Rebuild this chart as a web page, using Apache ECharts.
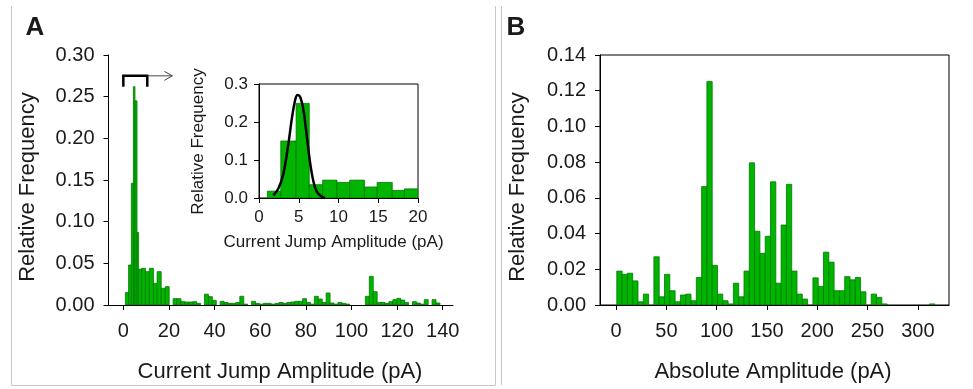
<!DOCTYPE html>
<html><head><meta charset="utf-8">
<script src="https://cdn.jsdelivr.net/npm/echarts@6/dist/echarts.min.js"></script>
<style>html,body{margin:0;padding:0;background:#fff}#c{width:973px;height:389px}</style>
</head><body><div id="c"></div>
<script>
// ---------- Panel A: main histogram ----------
const peakEdgesA = [0.9, 2.3, 3.5, 4.4, 5.1, 6.0, 6.7, 8.0, 9.7, 11.4, 13.2, 14.8, 16.6, 18.4, 20.1];
const peakFreqA  = [0.015, 0.048, 0.146, 0.262, 0.245, 0.087, 0.043, 0.044, 0.040, 0.044, 0.026, 0.040, 0.020, 0.022];
const tailStartA = 20.1, tailWidthA = 1.72;
const tailFreqA = [
  0, 0.0076, 0.0076, 0.004, 0.0036, 0.0036, 0.004, 0.002, 0, 0.013,
  0.010, 0.0055, 0, 0.0044, 0.003, 0.002, 0.002, 0.003, 0.0105, 0.001,
  0, 0.0044, 0.002, 0.001, 0.002, 0.002, 0.001, 0.002, 0.003, 0.002,
  0.003, 0.0036, 0.0044, 0.0044, 0.0076, 0.003, 0.001, 0.0104, 0.0072, 0.003,
  0.0144, 0.0024, 0.001, 0.003, 0.002, 0.001, 0, 0, 0, 0,
  0.0104, 0.0344, 0.016, 0.003, 0.003, 0.002, 0.004, 0.0064, 0.008, 0.006,
  0.003, 0, 0.004, 0.0024, 0.001, 0.0064, 0, 0.0064, 0.0024, 0
];
const ticksAx = [0, 20, 40, 60, 80, 100, 120, 140];
// ---------- Panel A: inset ----------
const insetEdges = [1.05, 2.74, 4.67, 6.32, 8.0, 9.81, 11.41, 13.26, 14.86, 16.76, 18.3, 20.0];
const insetFreq  = [0.018, 0.15, 0.249, 0.035, 0.047, 0.041, 0.047, 0.029, 0.041, 0.020, 0.024];
const fitX = [1.81, 2.44, 3.07, 3.7, 4.13, 4.55, 4.84, 5.18, 5.6, 6.02, 6.44, 6.86, 7.28, 7.9, 8.3];
const fitY = [0.007, 0.025, 0.064, 0.143, 0.209, 0.258, 0.271, 0.266, 0.231, 0.161, 0.091, 0.042, 0.016, 0.003, 0.0];
const insetTicksX = [0, 5, 10, 15, 20];
// ---------- Panel B ----------
const binStartB = 0.7, binWidthB = 5.27;
const freqB = [
  0.019, 0.0172, 0.0178, 0.0135, 0.0018, 0.0061, 0, 0.027, 0.0046, 0.0172,
  0.008, 0.0018, 0.0056, 0.0061, 0.0024, 0.0154, 0.0663, 0.1252, 0.0222, 0.0061,
  0.0024, 0.0006, 0.0122, 0.0046, 0.019, 0.0796, 0.0413, 0.0289, 0.0385, 0.069,
  0.0122, 0.0448, 0.0676, 0.019, 0.0061, 0.0033, 0, 0.0152, 0.0104, 0.0296,
  0.024, 0.008, 0.008, 0.0159, 0.0141, 0.0154, 0.0074, 0, 0.0061, 0.0043,
  0.0006, 0, 0, 0, 0, 0, 0, 0, 0, 0.0006
];
const ticksBx = [0, 50, 100, 150, 200, 250, 300];

// annotation (bracket + arrow) in panel A data coordinates
const bracketX = [0, 10.5], bracketTop = 0.275, bracketFoot = 0.262, arrowEnd = 21.5;

// ---------- build items ----------
const dataA = [];
for (let i = 0; i < peakFreqA.length; i++) dataA.push([peakEdgesA[i], peakEdgesA[i + 1], peakFreqA[i]]);
tailFreqA.forEach((v, k) => dataA.push([tailStartA + k * tailWidthA, tailStartA + (k + 1) * tailWidthA, v]));
const dataInset = insetFreq.map((v, i) => [insetEdges[i], insetEdges[i + 1], v]);
const dataB = freqB.map((v, k) => [binStartB + k * binWidthB, binStartB + (k + 1) * binWidthB, v]);

const FONT = 'Liberation Sans, Arial, Helvetica, sans-serif';
const TXT = '#1a1a1a';
const FILL = '#00b400', EDGE = '#007800';

function histItem(params, api) {
  const v = api.value(2);
  if (!v) return null;
  const p0 = api.coord([api.value(0), v]);
  const p1 = api.coord([api.value(1), 0]);
  return {
    type: 'rect',
    shape: { x: p0[0], y: p0[1], width: p1[0] - p0[0], height: p1[1] - p0[1] },
    style: { fill: FILL, stroke: EDGE, lineWidth: 0.8 }
  };
}

function xAx(gi, min, max, ticks, fs, margin) {
  return {
    gridIndex: gi, type: 'value', min: min, max: max,
    axisLine: { show: true, onZero: false, lineStyle: { color: '#000', width: 1 } },
    axisTick: { show: true, length: 5, customValues: ticks, lineStyle: { color: '#000' } },
    axisLabel: { customValues: ticks, fontSize: fs, margin: margin, color: TXT, fontFamily: FONT },
    splitLine: { show: false }
  };
}
function yAx(gi, max, interval, dec, fs, margin) {
  return {
    gridIndex: gi, type: 'value', min: 0, max: max, interval: interval,
    axisLine: { show: true, onZero: false, lineStyle: { color: '#000', width: 1 } },
    axisTick: { show: true, length: 5, lineStyle: { color: '#000' } },
    axisLabel: { fontSize: fs, margin: margin, color: TXT, fontFamily: FONT,
      formatter: v => v.toFixed(dec) },
    splitLine: { show: false }
  };
}

const chart = echarts.init(document.getElementById('c'), null, { renderer: 'canvas' });
chart.setOption({
  backgroundColor: '#fff',
  animation: false,
  grid: [
    { left: 108.5, top: 55, width: 344.5, height: 250 },
    { left: 600, top: 55, width: 349, height: 250, show: true, borderColor: '#000', borderWidth: 1 },
    { left: 259, top: 84, width: 159, height: 114, show: true, borderColor: '#000', borderWidth: 1, backgroundColor: '#fff' }
  ],
  xAxis: [
    xAx(0, -6.5, 144.5, ticksAx, 20, 16),
    xAx(1, -16, 331, ticksBx, 20, 16),
    xAx(2, 0, 20, insetTicksX, 17, 11)
  ],
  yAxis: [
    yAx(0, 0.30, 0.05, 2, 20, 14),
    yAx(1, 0.14, 0.02, 2, 20, 14),
    yAx(2, 0.3, 0.1, 1, 17, 11)
  ],
  series: [
    { type: 'custom', xAxisIndex: 0, yAxisIndex: 0, renderItem: histItem, data: dataA,
      encode: { x: [0, 1], y: 2 }, clip: true, silent: true },
    { type: 'custom', xAxisIndex: 1, yAxisIndex: 1, renderItem: histItem, data: dataB,
      encode: { x: [0, 1], y: 2 }, clip: true, silent: true },
    { type: 'custom', xAxisIndex: 2, yAxisIndex: 2, renderItem: histItem, data: dataInset,
      encode: { x: [0, 1], y: 2 }, clip: true, silent: true, z: 3 },
    { type: 'line', xAxisIndex: 2, yAxisIndex: 2, data: fitX.map((x, i) => [x, fitY[i]]),
      smooth: 0.35, symbol: 'none', lineStyle: { color: '#000', width: 2.5 }, z: 4, silent: true }
  ]
});

// annotations and titles
const pL = chart.convertToPixel({ gridIndex: 0 }, [bracketX[0], bracketTop]);
const pR = chart.convertToPixel({ gridIndex: 0 }, [bracketX[1], bracketTop]);
const pF = chart.convertToPixel({ gridIndex: 0 }, [bracketX[0], bracketFoot]);
const pE = chart.convertToPixel({ gridIndex: 0 }, [arrowEnd, bracketTop]);
const ty = pL[1], fy = pF[1];

function txt(x, y, s, size, opts) {
  return Object.assign({ type: 'text', x: x, y: y, silent: true,
    style: { text: s, font: (opts && opts.bold ? 'bold ' : '') + size + 'px ' + FONT,
      fill: TXT, align: 'center', verticalAlign: 'middle' } }, opts && opts.extra);
}
function rtxt(x, y, s, size) {
  return { type: 'text', x: x, y: y, rotation: Math.PI / 2, silent: true,
    style: { text: s, font: size + 'px ' + FONT, fill: TXT, align: 'center', verticalAlign: 'middle' } };
}
const gray = { stroke: '#c8c8c8', lineWidth: 1 };
chart.setOption({
  graphic: [
    { type: 'line', shape: { x1: 11.5, y1: 6, x2: 11.5, y2: 385 }, style: gray, silent: true },
    { type: 'line', shape: { x1: 495.5, y1: 6, x2: 495.5, y2: 385 }, style: gray, silent: true },
    { type: 'line', shape: { x1: 501.5, y1: 6, x2: 501.5, y2: 385 }, style: gray, silent: true },
    { type: 'line', shape: { x1: 11.5, y1: 385.5, x2: 495.5, y2: 385.5 }, style: gray, silent: true },
    { type: 'polyline', shape: { points: [[pL[0], fy], [pL[0], ty], [pR[0], ty], [pR[0], fy]] },
      style: { stroke: '#000', lineWidth: 2.5, fill: null }, silent: true, z: 10 },
    { type: 'line', shape: { x1: pR[0], y1: ty, x2: pE[0], y2: ty },
      style: { stroke: '#444', lineWidth: 1 }, silent: true, z: 10 },
    { type: 'polyline', shape: { points: [[pE[0] - 8, ty - 4.5], [pE[0], ty], [pE[0] - 8, ty + 4.5]] },
      style: { stroke: '#444', lineWidth: 1, fill: null }, silent: true, z: 10 },
    txt(35, 27.5, 'A', 26, { bold: true }),
    txt(516, 27.5, 'B', 26, { bold: true }),
    txt(280, 371.5, 'Current Jump Amplitude (pA)', 22),
    txt(773, 371.5, 'Absolute Amplitude (pA)', 22),
    txt(333.5, 242.5, 'Current Jump Amplitude (pA)', 17),
    { type: 'text', x: 28, y: 187, rotation: Math.PI / 2, silent: true,
      style: { text: 'Relative Frequency', font: '22px ' + FONT, fill: TXT, align: 'center', verticalAlign: 'middle' } },
    { type: 'text', x: 517.5, y: 187, rotation: Math.PI / 2, silent: true,
      style: { text: 'Relative Frequency', font: '22px ' + FONT, fill: TXT, align: 'center', verticalAlign: 'middle' } },
    { type: 'text', x: 198, y: 141.5, rotation: Math.PI / 2, silent: true, z: 10,
      style: { text: 'Relative Frequency', font: '17px ' + FONT, fill: TXT, align: 'center', verticalAlign: 'middle' } }
  ]
});
</script>
</body></html>
